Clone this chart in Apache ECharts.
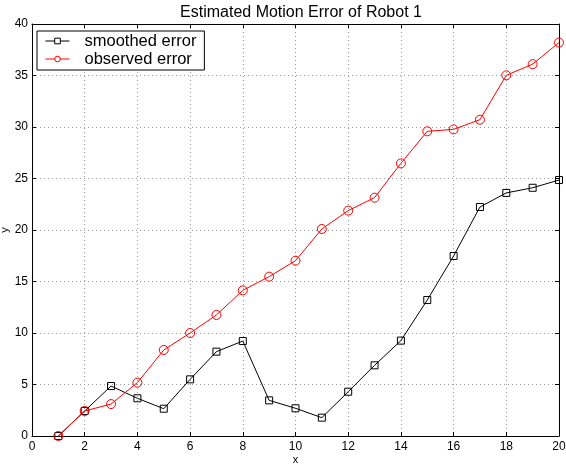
<!DOCTYPE html>
<html><head><meta charset="utf-8">
<script src="https://cdn.jsdelivr.net/npm/echarts@6/dist/echarts.min.js"></script>
<style>html,body{margin:0;padding:0;background:#fff}#c{width:566px;height:466px}</style>
</head><body><div id="c"></div>
<script>
const xValues = [1,2,3,4,5,6,7,8,9,10,11,12,13,14,15,16,17,18,19,20];
const smoothedError = [0,2.43,4.85,3.66,2.65,5.5,8.19,9.22,3.46,2.69,1.78,4.3,6.86,9.26,13.2,17.48,22.23,23.6,24.1,24.85];
const observedError = [0,2.43,3.1,5.18,8.35,10.0,11.75,14.14,15.47,17.02,20.1,21.88,23.14,26.47,29.58,29.77,30.71,35.02,36.1,38.2];
const titleText = 'Estimated Motion Error of Robot 1';
const seriesNames = ['smoothed error','observed error'];
const seriesColors = ['#000000','#ff0000'];

const font = 'Liberation Sans, Arial, Helvetica, sans-serif';
const chart = echarts.init(document.getElementById('c'), null, {renderer:'canvas'});
const pair = (ys) => xValues.map((x,i)=>[x, ys[i]]);
const gridLine = {show:true, lineStyle:{color:'#9a9a9a', type:[1,3], width:1}};
const axisBase = {
  type:'value',
  axisLine:{show:true, onZero:false, lineStyle:{color:'#000', width:1}},
  axisTick:{show:true, inside:true, length:4, lineStyle:{color:'#000'}},
  axisLabel:{color:'#000', fontFamily:font, fontSize:12},
};
chart.setOption({
  animation:false,
  backgroundColor:'#fff',
  title:{text:titleText, left:296, top:0, textAlign:'center',
    textStyle:{fontFamily:font, fontSize:16, fontWeight:'normal', color:'#000'}},
  grid:{left:32, right:7, top:24, bottom:30, containLabel:false, outerBoundsMode:'none'},
  legend:{
    data:seriesNames.map((n,i)=>({name:n,
      itemStyle:{color:'#fff', borderColor:seriesColors[i], borderWidth:1},
      lineStyle:{color:seriesColors[i], width:1}})),
    orient:'vertical', left:37, top:31, padding:[1,8,2,8],
    itemGap:0, itemWidth:24, itemHeight:7,
    borderColor:'#000', borderWidth:1, backgroundColor:'#fff', borderRadius:0,
    lineStyle:{width:1},
    textStyle:{fontFamily:font, fontSize:16.5, color:'#000', lineHeight:18, padding:[0,0,0,10]}
  },
  xAxis:[
    Object.assign({}, axisBase, {min:0, max:20, interval:2, position:'bottom',
      name:'x', nameLocation:'middle', nameGap:18, nameMoveOverlap:false,
      nameTextStyle:{fontFamily:font, fontSize:11, color:'#000'},
      axisLabel:Object.assign({}, axisBase.axisLabel, {margin:5}),
      splitLine:gridLine}),
    Object.assign({}, axisBase, {min:0, max:20, interval:2, position:'top',
      axisLabel:{show:false}, splitLine:{show:false}})
  ],
  yAxis:[
    Object.assign({}, axisBase, {min:0, max:40, interval:5, position:'left',
      name:'y', nameLocation:'middle', nameGap:22, nameRotate:90, nameMoveOverlap:false,
      nameTextStyle:{fontFamily:font, fontSize:11, color:'#000'},
      axisLabel:Object.assign({}, axisBase.axisLabel, {margin:4}),
      splitLine:gridLine}),
    Object.assign({}, axisBase, {min:0, max:40, interval:5, position:'right',
      axisLabel:{show:false}, splitLine:{show:false}})
  ],
  series:[
    {name:seriesNames[0], type:'line', data:pair(smoothedError), symbol:'rect', symbolSize:7,
      color:seriesColors[0], lineStyle:{color:seriesColors[0], width:1},
      itemStyle:{color:'rgba(255,255,255,0)', borderColor:seriesColors[0], borderWidth:1}, z:3},
    {name:seriesNames[1], type:'line', data:pair(observedError), symbol:'circle', symbolSize:9,
      color:seriesColors[1], lineStyle:{color:seriesColors[1], width:1},
      itemStyle:{color:'rgba(255,255,255,0)', borderColor:seriesColors[1], borderWidth:1}, z:4}
  ]
});
</script></body></html>
